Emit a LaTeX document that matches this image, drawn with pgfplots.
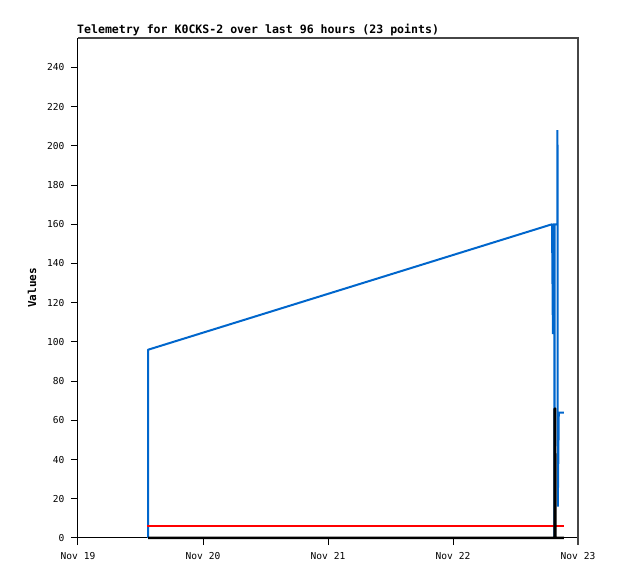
\documentclass[border=0pt]{standalone}
\usepackage{pgfplots}
\pgfplotsset{compat=1.18}
\usepackage{fontspec}
\setmainfont{DejaVu Sans Mono}
\definecolor{tblue}{RGB}{0,102,204}
\definecolor{tred}{RGB}{255,0,0}
\definecolor{frame}{RGB}{70,70,70}
\begin{document}
\begin{tikzpicture}[x=1bp,y=1bp]
\path[use as bounding box] (-78,-41) rectangle (540,538);
\begin{axis}[
  at={(0,0)}, anchor=south west,
  width=500bp, height=500bp, scale only axis,
  xmin=0, xmax=96, ymin=0, ymax=255,
  axis x line*=bottom, axis y line*=left,
  axis line style={black, line width=1bp},
  xtick={0,24,48,72,96},
  xticklabels={Nov 19,Nov 20,Nov 21,Nov 22,Nov 23},
  ytick={0,20,...,240},
  tick align=outside, major tick length=7bp,
  tick style={black, line width=1bp},
  ticklabel style={font=\fontsize{9.6}{10}\selectfont},
  xticklabel style={yshift=-4bp},
  yticklabel style={xshift=-3bp},
  /pgf/number format/assume math mode=true,
  clip=false,
  every axis plot/.append style={line join=bevel, line cap=butt},
]
\draw[frame, line width=1.2bp] (rel axis cs:0,1) -- (rel axis cs:1,1) -- (rel axis cs:1,0) -- ++(0,-7bp);
\addplot[tblue, line width=2bp, mark=none] coordinates {
(13.44,0) (13.44,96) (91.01,160) (91.18,104) (91.24,160) (91.43,160) (91.47,0) (91.51,160)
(92.03,160) (92.06,208) (92.12,16) (92.31,64) (93.31,64)
};
\addplot[tred, line width=2bp, mark=none] coordinates {
(13.25,6) (93.31,6)
};
\addplot[black, line width=2.5bp, mark=none] coordinates {
(13.44,0) (91.49,0) (91.52,66) (91.62,66) (91.65,0) (93.31,0)
};
\end{axis}
\node[anchor=base west, font=\bfseries\fontsize{11.6}{12}\selectfont, inner sep=0pt] at (-1,504) {Telemetry for K0CKS-2 over last 96 hours (23 points)};
\node[rotate=90, font=\bfseries\fontsize{11}{12}\selectfont, inner sep=0pt] at (-46,250) {Values};
\end{tikzpicture}
\end{document}
